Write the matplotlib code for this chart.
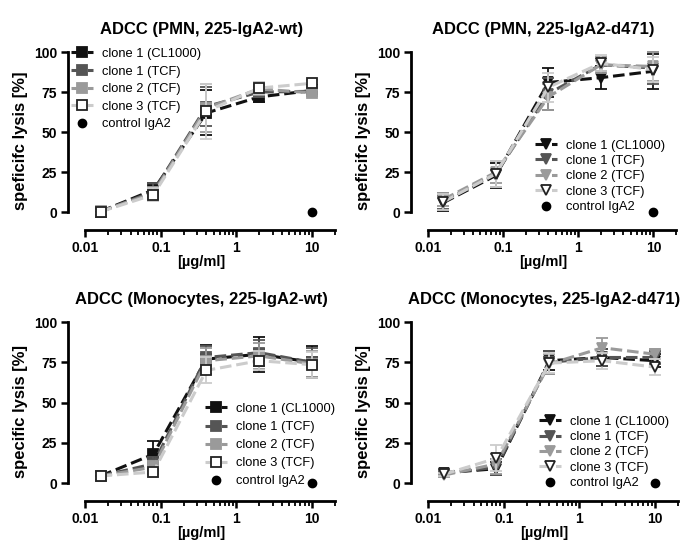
import numpy as np
import matplotlib
matplotlib.use("Agg")
import matplotlib.pyplot as plt
from matplotlib.ticker import NullFormatter, FixedLocator

plt.rcParams['font.family'] = ['Liberation Sans', 'DejaVu Sans']

# ---------- data ----------
conc = [0.016, 0.08, 0.4, 2, 10]
series_names = ['clone 1 (CL1000)', 'clone 1 (TCF)', 'clone 2 (TCF)', 'clone 3 (TCF)']
control_x = [10]
control_y = [0]

# PMN, 225-IgA2-wt
pmn_wt_cl1000 = [0.5, 14, 62, 72, 76]
pmn_wt_tcf1 = [0.4, 13, 66, 75, 75.5]
pmn_wt_tcf2 = [0.6, 12, 65, 77, 74.5]
pmn_wt_tcf3 = [0.4, 11, 63, 77.5, 80.5]
pmn_wt_err = [[1, 4, 14, 3, 2], [1, 5, 12, 3, 2], [1, 4, 15, 4, 2], [1, 4, 17, 4, 2]]

# PMN, 225-IgA2-d471
pmn_d_cl1000 = [6, 23, 81, 84, 88]
pmn_d_tcf1 = [7, 24, 74, 92, 90]
pmn_d_tcf2 = [8, 25, 72, 92, 91]
pmn_d_tcf3 = [6.5, 24, 78, 93, 89]
pmn_d_err = [[5, 8, 9, 7, 11], [5, 8, 10, 4, 10], [4, 7, 8, 5, 9], [5, 8, 9, 5, 8]]

# Monocytes, 225-IgA2-wt
mono_wt_cl1000 = [4.5, 18, 77, 80, 75]
mono_wt_tcf1 = [4.5, 12, 78, 81, 75]
mono_wt_tcf2 = [4.5, 10, 76, 79, 74]
mono_wt_tcf3 = [4.5, 7, 70, 76, 73.5]
mono_wt_err = [[1, 8, 9, 11, 10], [1, 4, 7, 8, 9], [1, 4, 8, 8, 8], [1, 3, 8, 6, 8]]

# Monocytes, 225-IgA2-d471
mono_d_cl1000 = [6.5, 9, 76, 78, 76]
mono_d_tcf1 = [6, 10, 75, 78, 78]
mono_d_tcf2 = [5, 12, 74, 84, 80]
mono_d_tcf3 = [5.5, 15.5, 74.5, 76, 72]
mono_d_err = [[1, 4, 6, 5, 4], [1, 5, 7, 5, 4], [1, 6, 6, 6, 3], [1, 8, 6, 5, 5]]

x_major = [0.01, 0.1, 1, 10]
x_labels = ['0.01', '0.1', '1', '10']
y_major = [0, 25, 50, 75, 100]

# ---------- style ----------
LINE_COLORS = ['#111111', '#555555', '#9a9a9a', '#cccccc']
FACE_COLORS = ['#111111', '#555555', '#9a9a9a', 'white']
EDGE_COLORS = ['#111111', '#555555', '#9a9a9a', '#222222']

W, H = 700, 559

# minor ticks only inside 0.01 .. 20
x_minor = [m * 10.0 ** e for e in (-2, -1, 0, 1) for m in range(2, 10) if m * 10.0 ** e <= 20]

# (title, ylabel, series, errors, marker, axes px [left, right, top, bottom], legend anchor, labelspacing)
panels = [
    ('ADCC (PMN, 225-IgA2-wt)', 'speficifc lysis [%]',
     [pmn_wt_cl1000, pmn_wt_tcf1, pmn_wt_tcf2, pmn_wt_tcf3], pmn_wt_err, 's',
     (68, 335, 52, 230), (0.011, 1.023), 0.43),
    ('ADCC (PMN, 225-IgA2-d471)', 'speficifc lysis [%]',
     [pmn_d_cl1000, pmn_d_tcf1, pmn_d_tcf2, pmn_d_tcf3], pmn_d_err, 'v',
     (411, 676, 52, 230), (0.468, 0.508), 0.26),
    ('ADCC (Monocytes, 225-IgA2-wt)', 'specific lysis [%]',
     [mono_wt_cl1000, mono_wt_tcf1, mono_wt_tcf2, mono_wt_tcf3], mono_wt_err, 's',
     (68, 335, 322, 501), (0.513, 0.548), 0.47),
    ('ADCC (Monocytes, 225-IgA2-d471)', 'specific lysis [%]',
     [mono_d_cl1000, mono_d_tcf1, mono_d_tcf2, mono_d_tcf3], mono_d_err, 'v',
     (411, 678, 322, 501), (0.481, 0.477), 0.26),
]

fig = plt.figure(figsize=(W / 100, H / 100), dpi=100)

for title, ylab, series, errs, mk, (pl, pr, pt, pb), anchor, lsp in panels:
    ax = fig.add_axes([pl / W, 1 - pb / H, (pr - pl) / W, (pb - pt) / H])
    ms = 6.5 if mk == 's' else 7

    for i, (vals, err) in enumerate(zip(series, errs)):
        ax.errorbar(conc, vals, yerr=err, fmt='none', ecolor=LINE_COLORS[i],
                    elinewidth=1.3, capsize=4, capthick=1.3, zorder=2 + i, clip_on=False)
        ax.plot(conc, vals, ls=(0, (3.8, 1.6)), lw=2.2, color=LINE_COLORS[i],
                marker=mk, ms=ms, mfc=FACE_COLORS[i], mec=EDGE_COLORS[i], mew=1.3,
                label=series_names[i], zorder=3 + i, clip_on=False)
    ax.plot(control_x, control_y, 'o', color='black', ms=6, ls='none',
            label='control IgA2', zorder=10, clip_on=False)

    ax.set_xscale('log')
    ax.set_xlim(0.01 * 10 ** (-17 / 75.5), 20)
    ax.set_ylim(-11, 100)

    for s in ['top', 'right']:
        ax.spines[s].set_visible(False)
    ax.spines['left'].set_bounds(0, 100)
    ax.spines['bottom'].set_bounds(0.01, 20)
    ax.spines['left'].set_linewidth(2)
    ax.spines['bottom'].set_linewidth(2)

    ax.xaxis.set_major_locator(FixedLocator(x_major))
    ax.xaxis.set_minor_locator(FixedLocator(x_minor))
    ax.xaxis.set_minor_formatter(NullFormatter())
    ax.set_xticklabels(x_labels)
    ax.set_yticks(y_major)
    ax.tick_params(axis='both', which='major', direction='out', length=5, width=1.8,
                   labelsize=10, pad=3)
    ax.tick_params(axis='x', which='minor', direction='out', length=3.5, width=1.3)
    for lbl in ax.get_xticklabels() + ax.get_yticklabels():
        lbl.set_fontweight('bold')

    ax.set_title(title, fontsize=12, fontweight='bold', pad=13)
    ax.set_xlabel('[µg/ml]', fontsize=10.5, fontweight='bold', labelpad=0)
    ax.set_ylabel(ylab, fontsize=12, fontweight='bold', labelpad=4)

    ax.legend(loc='upper left', bbox_to_anchor=anchor, frameon=False, fontsize=9.3,
              handlelength=1.7, handletextpad=0.7, labelspacing=lsp,
              borderpad=0, borderaxespad=0)

fig.savefig('out.png', dpi=100)
